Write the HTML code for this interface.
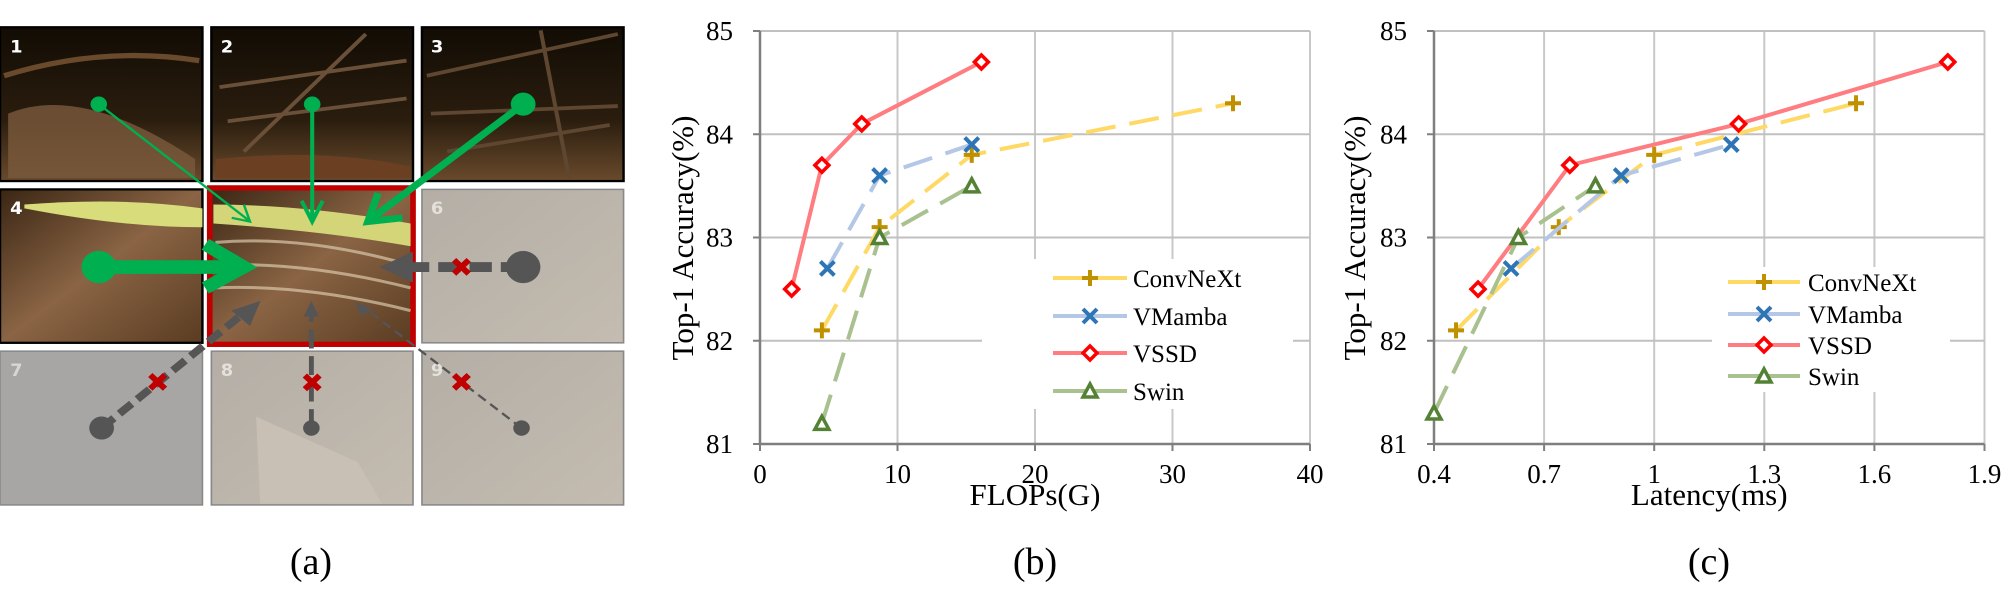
<!DOCTYPE html>
<html><head><meta charset="utf-8"><style>
html,body{margin:0;padding:0;background:#fff;}
svg{display:block;font-family:"Liberation Serif",serif;}
</style></head><body>
<svg id="fig" width="2008" height="591" viewBox="0 0 2008 591" xmlns="http://www.w3.org/2000/svg">
<defs>
<linearGradient id="dark1" x1="0" y1="0" x2="0" y2="1"><stop offset="0" stop-color="#120c04"/><stop offset="0.6" stop-color="#2a1d0e"/><stop offset="1" stop-color="#6a4a2c"/></linearGradient>
<linearGradient id="brown" x1="0" y1="0" x2="1" y2="1"><stop offset="0" stop-color="#3a2614"/><stop offset="0.5" stop-color="#8a6444"/><stop offset="1" stop-color="#5a3c22"/></linearGradient>
<linearGradient id="grey" x1="0" y1="0" x2="1" y2="1"><stop offset="0" stop-color="#b4aea6"/><stop offset="1" stop-color="#c4bcb0"/></linearGradient>
</defs>
<g id="panel-a" transform="scale(0.4065,0.3788)">
  <g><rect x="0" y="72" width="498" height="406" fill="url(#dark1)" stroke="#000" stroke-width="6"/><path d="M20 300 Q200 220 480 420 L480 470 L20 470Z" fill="#7a5a3c" opacity="0.8"/><path d="M10 200 Q250 120 490 160" stroke="#6a4a2c" stroke-width="14" fill="none"/><text x="25" y="138" fill="#fff" font-family="DejaVu Sans" font-weight="bold" font-size="44">1</text></g>
  <g><rect x="520" y="72" width="496" height="406" fill="url(#dark1)" stroke="#000" stroke-width="6"/><path d="M540 230 L1000 160 M600 400 L900 90 M560 320 L1000 260" stroke="#6a5038" stroke-width="10" fill="none"/><path d="M530 420 Q800 390 1010 440 L1010 470 L530 470Z" fill="#6a3f22"/><text x="543" y="138" fill="#fff" font-family="DejaVu Sans" font-weight="bold" font-size="44">2</text></g>
  <g><rect x="1038" y="72" width="496" height="406" fill="url(#dark1)" stroke="#000" stroke-width="6"/><path d="M1050 200 L1520 90 M1330 80 L1400 470 M1060 300 L1520 280 M1100 400 L1500 330" stroke="#5e4630" stroke-width="10" fill="none"/><text x="1060" y="138" fill="#fff" font-family="DejaVu Sans" font-weight="bold" font-size="44">3</text></g>
  <g><rect x="0" y="500" width="498" height="405" fill="url(#brown)" stroke="#000" stroke-width="6"/><path d="M60 540 Q300 520 498 550 L498 600 Q300 600 60 550Z" fill="#d8dc7a"/><text x="25" y="565" fill="#fff" font-family="DejaVu Sans" font-weight="bold" font-size="44">4</text></g>
  <g><rect x="516" y="496" width="500" height="413" fill="url(#brown)" stroke="#c00000" stroke-width="14"/><path d="M525 540 Q750 540 1010 590 L1010 650 Q800 610 525 590Z" fill="#d4d478"/><path d="M530 640 Q750 620 1010 700 M530 700 Q750 690 1010 760 M530 760 Q750 750 1010 820" stroke="#d8c8a8" stroke-width="8" fill="none" opacity="0.7"/></g>
  <g><rect x="1038" y="500" width="496" height="405" fill="url(#grey)" stroke="#888" stroke-width="4"/><text x="1060" y="565" fill="#e4e0da" font-family="DejaVu Sans" font-weight="bold" font-size="44">6</text></g>
  <g><rect x="0" y="927" width="498" height="406" fill="#a8a6a4" stroke="#888" stroke-width="4"/><text x="25" y="992" fill="#d8d6d2" font-family="DejaVu Sans" font-weight="bold" font-size="44">7</text></g>
  <g><rect x="520" y="927" width="496" height="406" fill="url(#grey)" stroke="#888" stroke-width="4"/><path d="M630 1100 L880 1220 L940 1330 L640 1330Z" fill="#c8c0b4"/><text x="543" y="992" fill="#e4e0da" font-family="DejaVu Sans" font-weight="bold" font-size="44">8</text></g>
  <g><rect x="1038" y="927" width="496" height="406" fill="url(#grey)" stroke="#888" stroke-width="4"/><text x="1060" y="992" fill="#e4e0da" font-family="DejaVu Sans" font-weight="bold" font-size="44">9</text></g>
  <g stroke="#00b050" fill="#00b050">
    <line x1="243" y1="275" x2="610" y2="580" stroke-width="6"/><circle cx="243" cy="275" r="20"/><path d="M570 575 L615 585 L600 540" fill="none" stroke-width="6"/>
    <line x1="768" y1="275" x2="768" y2="580" stroke-width="10"/><circle cx="768" cy="275" r="20"/><path d="M742 530 L768 585 L794 530" fill="none" stroke-width="10"/>
    <line x1="1287" y1="275" x2="910" y2="580" stroke-width="18"/><circle cx="1287" cy="275" r="30"/><path d="M930 510 L905 585 L990 575" fill="none" stroke-width="18"/>
    <line x1="243" y1="705" x2="590" y2="705" stroke-width="36"/><circle cx="243" cy="705" r="42"/><path d="M505 645 L600 705 L505 760" fill="none" stroke-width="34"/>
  </g>
  <g stroke="#555" fill="#555">
    <line x1="1287" y1="705" x2="1000" y2="705" stroke-width="26" stroke-dasharray="55 22"/><circle cx="1287" cy="705" r="42"/><path d="M1015 665 L935 705 L1015 745Z"/>
    <line x1="250" y1="1130" x2="590" y2="835" stroke-width="20" stroke-dasharray="40 18"/><circle cx="250" cy="1130" r="30"/><path d="M640 795 L570 820 L615 860Z"/>
    <line x1="766" y1="1130" x2="766" y2="835" stroke-width="12" stroke-dasharray="50 20"/><circle cx="766" cy="1130" r="20"/><path d="M766 795 L748 835 L784 835Z"/>
    <line x1="1283" y1="1130" x2="900" y2="815" stroke-width="6" stroke-dasharray="24 14"/><circle cx="1283" cy="1130" r="20"/><path d="M875 798 L890 835 L915 815Z"/>
  </g>
  <g fill="#c00000" font-family="DejaVu Sans" font-weight="bold" font-size="70" text-anchor="middle">
    <text x="1135" y="730">✖</text><text x="388" y="1033">✖</text><text x="768" y="1035">✖</text><text x="1135" y="1033">✖</text>
  </g>
</g>
<text x="311" y="574" font-size="38" text-anchor="middle">(a)</text>
<text x="1035" y="574" font-size="38" text-anchor="middle">(b)</text>
<text x="1709" y="574" font-size="38" text-anchor="middle">(c)</text>
<g id="chartB"></g>
<g id="chartC"></g>
</svg>
<script>
const seriesNames = ["ConvNeXt", "VMamba", "VSSD", "Swin"];
const yTicks = [81, 82, 83, 84, 85];
const flopsTicks = [0, 10, 20, 30, 40];
const latTicks = [0.4, 0.7, 1, 1.3, 1.6, 1.9];
const latTickLabels = ["0.4", "0.7", "1", "1.3", "1.6", "1.9"];
const convFlops = [4.5, 8.7, 15.4, 34.4];
const convAccB = [82.1, 83.1, 83.8, 84.3];
const vmFlops = [4.9, 8.7, 15.4];
const vmAccB = [82.7, 83.6, 83.9];
const vssdFlops = [2.3, 4.5, 7.4, 16.1];
const vssdAccB = [82.5, 83.7, 84.1, 84.7];
const swinFlops = [4.5, 8.7, 15.4];
const swinAccB = [81.2, 83.0, 83.5];
const convLat = [0.46, 0.74, 1.0, 1.55];
const convAccC = [82.1, 83.1, 83.8, 84.3];
const vmLat = [0.61, 0.91, 1.21];
const vmAccC = [82.7, 83.6, 83.9];
const vssdLat = [0.52, 0.77, 1.23, 1.80];
const vssdAccC = [82.5, 83.7, 84.1, 84.7];
const swinLat = [0.40, 0.63, 0.84];
const swinAccC = [81.3, 83.0, 83.5];

const NS = "http://www.w3.org/2000/svg";
const styles = [
  {line:"#ffd966", mk:"#bf9000", dash:"30 14", marker:"plus"},
  {line:"#b4c7e7", mk:"#2e75b6", dash:"30 14", marker:"x"},
  {line:"#ff7c80", mk:"#ff0000", dash:null, marker:"diamond"},
  {line:"#a9c08f", mk:"#548235", dash:"30 14", marker:"tri"}
];
function mk(tag, attrs, parent) {
  const e = document.createElementNS(NS, tag);
  for (const k in attrs) e.setAttribute(k, attrs[k]);
  parent.appendChild(e);
  return e;
}
function marker(g, type, cx, cy, color) {
  let e;
  if (type === "plus") {
    e = mk("path", {d:`M${cx-8} ${cy}H${cx+8}M${cx} ${cy-8}V${cy+8}`, stroke:color, "stroke-width":4, fill:"none"}, g);
  } else if (type === "x") {
    e = mk("path", {d:`M${cx-7} ${cy-7}L${cx+7} ${cy+7}M${cx+7} ${cy-7}L${cx-7} ${cy+7}`, stroke:color, "stroke-width":4, fill:"none"}, g);
  } else if (type === "diamond") {
    e = mk("path", {d:`M${cx} ${cy-7}L${cx+7} ${cy}L${cx} ${cy+7}L${cx-7} ${cy}Z`, stroke:color, "stroke-width":3.5, fill:"#fff"}, g);
  } else {
    e = mk("path", {d:`M${cx} ${cy-7}L${cx+7} ${cy+6}L${cx-7} ${cy+6}Z`, stroke:color, "stroke-width":3.5, fill:"#fff"}, g);
  }
  return e;
}
function drawChart(gid, cfg) {
  const g = document.getElementById(gid);
  const X = v => cfg.x0 + (v - cfg.xmin) / (cfg.xmax - cfg.xmin) * (cfg.x1 - cfg.x0);
  const Y = v => 444 - (v - 81) / 4 * (444 - 31);
  cfg.xticks.forEach((t, i) => {
    if (i > 0) {
      const l = mk("line", {x1:X(t), x2:X(t), y1:31, y2:444, stroke:"#c8c8c8", "stroke-width":2}, g);
      
      
    }
    const tk = mk("line", {x1:X(t), x2:X(t), y1:444, y2:451, stroke:"#7f7f7f", "stroke-width":2}, g);
    
    
    const tx = mk("text", {x:X(t), y:483, "font-size":27, "text-anchor":"middle", fill:"#000"}, g);
    tx.textContent = cfg.xlabels[i];
    
    
  });
  yTicks.forEach(t => {
    if (t > 81) {
      const l = mk("line", {x1:cfg.x0, x2:cfg.x1, y1:Y(t), y2:Y(t), stroke:"#c0c0c0", "stroke-width":2}, g);
      
      
    }
    const tk = mk("line", {x1:cfg.x0-7, x2:cfg.x0, y1:Y(t), y2:Y(t), stroke:"#7f7f7f", "stroke-width":2}, g);
    
    
    const tx = mk("text", {x:cfg.x0-27, y:Y(t)+9, "font-size":27, "text-anchor":"end", fill:"#000"}, g);
    tx.textContent = String(t);
    
    
  });
  const ax = mk("path", {d:`M${cfg.x0} 31V444H${cfg.x1}`, stroke:"#7f7f7f", "stroke-width":2.5, fill:"none"}, g);
  
  
  const lg = mk("g", {}, g);
  
  
  mk("rect", {x:cfg.lb[0], y:cfg.lb[1], width:cfg.lb[2], height:cfg.lb[3], fill:"#fff"}, lg);
  seriesNames.forEach((n, i) => {
    const s = styles[i];
    const ry = cfg.ly[i];
    const e = mk("g", {}, lg);
    
    
    mk("line", {x1:cfg.lx[0], x2:cfg.lx[2], y1:ry, y2:ry, stroke:s.line, "stroke-width":4}, e);
    marker(e, s.marker, cfg.lx[1], ry, s.mk);
    const t = mk("text", {x:cfg.lx[3], y:ry+9, "font-size":25, fill:"#000"}, e);
    t.textContent = n;
  });
  cfg.series.forEach((sd, i) => {
    const s = styles[i];
    const sg = mk("g", {}, g);
    
    
    const pts = sd[0].map((v, j) => X(v) + "," + Y(sd[1][j])).join(" ");
    const pl = mk("polyline", {points:pts, stroke:s.line, "stroke-width":4, fill:"none"}, sg);
    if (s.dash) pl.setAttribute("stroke-dasharray", s.dash);
    
    
    sd[0].forEach((v, j) => {
      const m = marker(sg, s.marker, X(v), Y(sd[1][j]), s.mk);
      
      
    });
  });
  const yt = mk("text", {x:0, y:0, "font-size":31, "text-anchor":"middle", transform:`translate(${cfg.ytx},238) rotate(-90)`}, g);
  yt.textContent = "Top-1 Accuracy(%)";
  
  
  const xt = mk("text", {x:(cfg.x0+cfg.x1)/2, y:505, "font-size":31, "text-anchor":"middle"}, g);
  xt.textContent = cfg.xtitle;
  
  
}
drawChart("chartB", {x0:760, x1:1310, xmin:0, xmax:40, xticks:flopsTicks, xlabels:flopsTicks.map(String),
  series:[[convFlops,convAccB],[vmFlops,vmAccB],[vssdFlops,vssdAccB],[swinFlops,swinAccB]],
  lb:[982,259,311,150], ly:[278,316,353,391], lx:[1053,1090,1127,1133], ytx:693, xtitle:"FLOPs(G)"});
drawChart("chartC", {x0:1434, x1:1984.5, xmin:0.4, xmax:1.9, xticks:latTicks, xlabels:latTickLabels,
  series:[[convLat,convAccC],[vmLat,vmAccC],[vssdLat,vssdAccC],[swinLat,swinAccC]],
  lb:[1712,267,238,125], ly:[282,314,345,376], lx:[1728,1764,1800,1808], ytx:1365, xtitle:"Latency(ms)"});
</script>
</body></html>
